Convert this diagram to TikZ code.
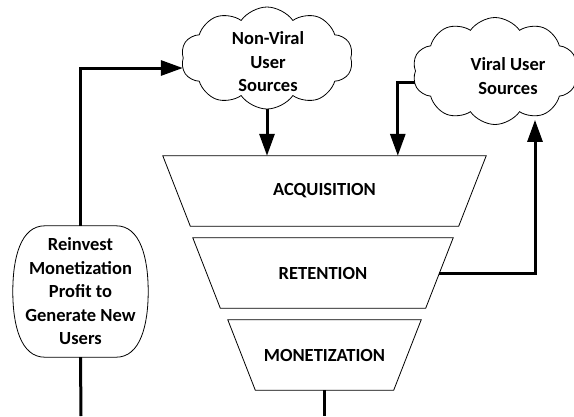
\documentclass[tikz,border=0pt]{standalone}
\usepackage{fontspec}
\setmainfont{Carlito}
\usetikzlibrary{arrows.meta,shapes.symbols}

\tikzset{
  label/.style={font=\fontsize{18.5}{23.5}\selectfont\bfseries, align=center, inner sep=0pt},
  stage/.style={label, minimum height=70pt},
  outline/.style={draw=black, line width=0.8pt},
  cloudbox/.style={cloud, cloud puffs=10, cloud puff arc=110, cloud ignores aspect,
    outline, inner sep=0pt},
  link/.style={line width=3pt},
  conn/.style={link, -{Triangle[length=22pt,width=15pt]}},
}

\begin{document}
\begin{tikzpicture}[x=1pt,y=-1pt]
\useasboundingbox (0,0) rectangle (574,416);

% funnel stages
\node[stage, minimum width=323pt] (acq) at (324.5,191) {ACQUISITION};
\node[stage, minimum width=260pt] (ret) at (323,273) {RETENTION};
\node[stage, minimum width=193pt] (mon) at (324.5,355) {MONETIZATION};
\foreach \s in {acq,ret,mon}{
  \draw[outline] (\s.north west) -- (\s.north east)
    -- ([xshift=-27.5pt]\s.south east) -- ([xshift=27.5pt]\s.south west) -- cycle;
}

% user source clouds
\node[cloudbox, minimum width=172pt, minimum height=102pt] (nonviral) at (267,58) {};
\node[label] (nonviraltext) at (268,62) {Non-Viral\\User\\Sources};
\node[cloudbox, minimum width=165pt, minimum height=107pt] (viral) at (495,71) {};
\node[label] (viraltext) at (508,76) {Viral User\\Sources};

% reinvestment step
\node[label, minimum width=135pt, minimum height=131pt] (reinvest) at (80.5,291.5)
  {Reinvest\\Monetization\\Profit to\\Generate New\\Users};
\draw[outline] ([xshift=32pt]reinvest.north west) -- ([xshift=-32pt]reinvest.north east)
  .. controls +(24,0) and +(0,-34) .. (reinvest.east)
  .. controls +(0,34) and +(24,0) .. ([xshift=-32pt]reinvest.south east)
  -- ([xshift=32pt]reinvest.south west)
  .. controls +(-24,0) and +(0,34) .. (reinvest.west)
  .. controls +(0,-34) and +(-24,0) .. cycle;

% loose ends running off the bottom edge
\coordinate (monout) at (324.5,416);
\coordinate (reinvin) at (81,416);

% connectors
\draw[conn] (nonviral.south) -- (nonviral.south |- acq.north);
\draw[conn] ([yshift=-11pt]viral.west) -| ([xshift=235pt]acq.north west);
\draw[conn] ([xshift=-13.75pt]ret.east) -| ([xshift=40pt,yshift=5pt]viral.south);
\draw[link] (mon.south) -- (monout);
\draw[link] (reinvin) -- (reinvest.south);
\draw[conn] (reinvest.north) |- ([yshift=-10pt]nonviral.west);
\end{tikzpicture}
\end{document}
